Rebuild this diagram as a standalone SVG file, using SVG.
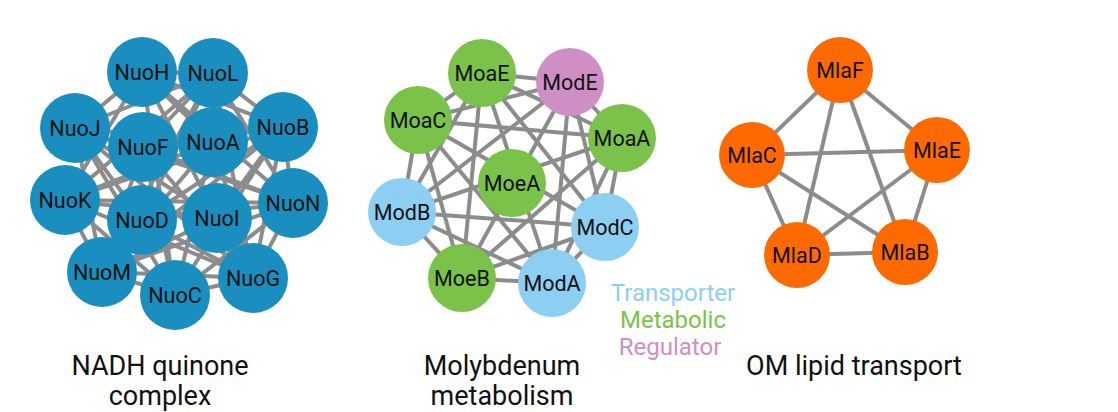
<svg xmlns="http://www.w3.org/2000/svg" width="1118" height="412" viewBox="0 0 1118 412">
<style>
text{font-family:Roboto,"Liberation Sans",sans-serif}
.n{font-size:21.5px;fill:#111;text-anchor:middle;dominant-baseline:central}
.c{font-size:27px;fill:#111;text-anchor:middle}
.l{font-size:24px;text-anchor:middle}
#edges line{stroke:#8c8c8c;stroke-width:4}
.b{fill:#1b8ec0}.g{fill:#7bc24a}.p{fill:#cf8fc4}.t{fill:#8dcff2}.o{fill:#ff6a00}
</style>
<rect width="1118" height="412" fill="#fff"/>
<g id="edges">
<line x1="142" y1="72" x2="213" y2="73"/><line x1="142" y1="72" x2="75" y2="128"/><line x1="142" y1="72" x2="213" y2="142"/><line x1="142" y1="72" x2="283" y2="127"/><line x1="142" y1="72" x2="65" y2="200"/><line x1="142" y1="72" x2="217" y2="218"/><line x1="142" y1="72" x2="293" y2="203"/><line x1="142" y1="72" x2="175" y2="295"/>
<line x1="213" y1="73" x2="75" y2="128"/><line x1="213" y1="73" x2="143" y2="147"/><line x1="213" y1="73" x2="283" y2="127"/><line x1="213" y1="73" x2="65" y2="200"/><line x1="213" y1="73" x2="142" y2="220"/><line x1="213" y1="73" x2="293" y2="203"/><line x1="213" y1="73" x2="102" y2="272"/><line x1="213" y1="73" x2="253" y2="278"/>
<line x1="75" y1="128" x2="213" y2="142"/><line x1="75" y1="128" x2="142" y2="220"/><line x1="75" y1="128" x2="217" y2="218"/><line x1="75" y1="128" x2="102" y2="272"/><line x1="75" y1="128" x2="175" y2="295"/><line x1="75" y1="128" x2="253" y2="278"/><line x1="75" y1="128" x2="293" y2="203"/>
<line x1="283" y1="127" x2="143" y2="147"/><line x1="283" y1="127" x2="142" y2="220"/><line x1="283" y1="127" x2="217" y2="218"/><line x1="283" y1="127" x2="293" y2="203"/><line x1="283" y1="127" x2="253" y2="278"/><line x1="283" y1="127" x2="175" y2="295"/><line x1="283" y1="127" x2="102" y2="272"/><line x1="283" y1="127" x2="65" y2="200"/>
<line x1="65" y1="200" x2="213" y2="142"/><line x1="65" y1="200" x2="217" y2="218"/><line x1="65" y1="200" x2="102" y2="272"/><line x1="65" y1="200" x2="175" y2="295"/><line x1="65" y1="200" x2="253" y2="278"/><line x1="65" y1="200" x2="293" y2="203"/>
<line x1="293" y1="203" x2="143" y2="147"/><line x1="293" y1="203" x2="142" y2="220"/><line x1="293" y1="203" x2="253" y2="278"/><line x1="293" y1="203" x2="175" y2="295"/><line x1="293" y1="203" x2="102" y2="272"/>
<line x1="102" y1="272" x2="143" y2="147"/><line x1="102" y1="272" x2="213" y2="142"/><line x1="102" y1="272" x2="217" y2="218"/><line x1="102" y1="272" x2="175" y2="295"/><line x1="102" y1="272" x2="253" y2="278"/>
<line x1="175" y1="295" x2="143" y2="147"/><line x1="175" y1="295" x2="213" y2="142"/><line x1="175" y1="295" x2="253" y2="278"/>
<line x1="253" y1="278" x2="143" y2="147"/><line x1="253" y1="278" x2="213" y2="142"/><line x1="253" y1="278" x2="142" y2="220"/>
<line x1="482" y1="73" x2="570" y2="82"/><line x1="482" y1="73" x2="418" y2="120"/><line x1="482" y1="73" x2="622" y2="138"/><line x1="482" y1="73" x2="402" y2="212"/><line x1="482" y1="73" x2="605" y2="227"/><line x1="482" y1="73" x2="462" y2="278"/><line x1="482" y1="73" x2="552" y2="283"/>
<line x1="570" y1="82" x2="418" y2="120"/><line x1="570" y1="82" x2="622" y2="138"/><line x1="570" y1="82" x2="402" y2="212"/><line x1="570" y1="82" x2="605" y2="227"/><line x1="570" y1="82" x2="462" y2="278"/><line x1="570" y1="82" x2="552" y2="283"/>
<line x1="418" y1="120" x2="622" y2="138"/><line x1="418" y1="120" x2="402" y2="212"/><line x1="418" y1="120" x2="605" y2="227"/><line x1="418" y1="120" x2="462" y2="278"/><line x1="418" y1="120" x2="552" y2="283"/>
<line x1="622" y1="138" x2="402" y2="212"/><line x1="622" y1="138" x2="605" y2="227"/><line x1="622" y1="138" x2="462" y2="278"/><line x1="622" y1="138" x2="552" y2="283"/>
<line x1="402" y1="212" x2="605" y2="227"/><line x1="402" y1="212" x2="462" y2="278"/><line x1="402" y1="212" x2="552" y2="283"/>
<line x1="605" y1="227" x2="462" y2="278"/><line x1="605" y1="227" x2="552" y2="283"/><line x1="462" y1="278" x2="552" y2="283"/>
<line x1="840" y1="70" x2="752" y2="155"/><line x1="840" y1="70" x2="937" y2="150"/><line x1="840" y1="70" x2="797" y2="255"/><line x1="840" y1="70" x2="905" y2="252"/>
<line x1="752" y1="155" x2="937" y2="150"/><line x1="752" y1="155" x2="797" y2="255"/><line x1="752" y1="155" x2="905" y2="252"/>
<line x1="937" y1="150" x2="797" y2="255"/><line x1="937" y1="150" x2="905" y2="252"/><line x1="797" y1="255" x2="905" y2="252"/>
</g>
<g id="NuoH"><circle class="b" cx="142" cy="72" r="35"/><text class="n" x="142" y="72">NuoH</text></g>
<g id="NuoL"><circle class="b" cx="213" cy="73" r="35"/><text class="n" x="213" y="73">NuoL</text></g>
<g id="NuoJ"><circle class="b" cx="75" cy="128" r="35"/><text class="n" x="75" y="128">NuoJ</text></g>
<g id="NuoB"><circle class="b" cx="283" cy="127" r="35"/><text class="n" x="283" y="127">NuoB</text></g>
<g id="NuoF"><circle class="b" cx="143" cy="147" r="35"/><text class="n" x="143" y="147">NuoF</text></g>
<g id="NuoA"><circle class="b" cx="213" cy="142" r="35"/><text class="n" x="213" y="142">NuoA</text></g>
<g id="NuoK"><circle class="b" cx="65" cy="200" r="35"/><text class="n" x="65" y="200">NuoK</text></g>
<g id="NuoN"><circle class="b" cx="293" cy="203" r="35"/><text class="n" x="293" y="203">NuoN</text></g>
<g id="NuoD"><circle class="b" cx="142" cy="220" r="35"/><text class="n" x="142" y="220">NuoD</text></g>
<g id="NuoI"><circle class="b" cx="217" cy="218" r="35"/><text class="n" x="217" y="218">NuoI</text></g>
<g id="NuoM"><circle class="b" cx="102" cy="272" r="35"/><text class="n" x="102" y="272">NuoM</text></g>
<g id="NuoG"><circle class="b" cx="253" cy="278" r="35"/><text class="n" x="253" y="278">NuoG</text></g>
<g id="NuoC"><circle class="b" cx="175" cy="295" r="35"/><text class="n" x="175" y="295">NuoC</text></g>
<g id="MoaE"><circle class="g" cx="482" cy="73" r="34"/><text class="n" x="482" y="73">MoaE</text></g>
<g id="ModE"><circle class="p" cx="570" cy="82" r="34"/><text class="n" x="570" y="82">ModE</text></g>
<g id="MoaC"><circle class="g" cx="418" cy="120" r="34"/><text class="n" x="418" y="120">MoaC</text></g>
<g id="MoaA"><circle class="g" cx="622" cy="138" r="34"/><text class="n" x="622" y="138">MoaA</text></g>
<g id="MoeA"><circle class="g" cx="512" cy="183" r="34"/><text class="n" x="512" y="183">MoeA</text></g>
<g id="ModB"><circle class="t" cx="402" cy="212" r="34"/><text class="n" x="402" y="212">ModB</text></g>
<g id="ModC"><circle class="t" cx="605" cy="227" r="34"/><text class="n" x="605" y="227">ModC</text></g>
<g id="MoeB"><circle class="g" cx="462" cy="278" r="34"/><text class="n" x="462" y="278">MoeB</text></g>
<g id="ModA"><circle class="t" cx="552" cy="283" r="34"/><text class="n" x="552" y="283">ModA</text></g>
<g id="MlaF"><circle class="o" cx="840" cy="70" r="33"/><text class="n" x="840" y="70">MlaF</text></g>
<g id="MlaC"><circle class="o" cx="752" cy="155" r="33"/><text class="n" x="752" y="155">MlaC</text></g>
<g id="MlaE"><circle class="o" cx="937" cy="150" r="33"/><text class="n" x="937" y="150">MlaE</text></g>
<g id="MlaD"><circle class="o" cx="797" cy="255" r="33"/><text class="n" x="797" y="255">MlaD</text></g>
<g id="MlaB"><circle class="o" cx="905" cy="252" r="33"/><text class="n" x="905" y="252">MlaB</text></g>
<text class="l" x="673" y="301" fill="#8dcff2">Transporter</text>
<text class="l" x="673" y="328" fill="#7bc24a">Metabolic</text>
<text class="l" x="670" y="355" fill="#cf8fc4">Regulator</text>
<text class="c" x="160" y="375">NADH quinone</text>
<text class="c" x="160" y="405">complex</text>
<text class="c" x="502" y="375">Molybdenum</text>
<text class="c" x="502" y="405">metabolism</text>
<text class="c" x="854" y="375">OM lipid transport</text>
</svg>
